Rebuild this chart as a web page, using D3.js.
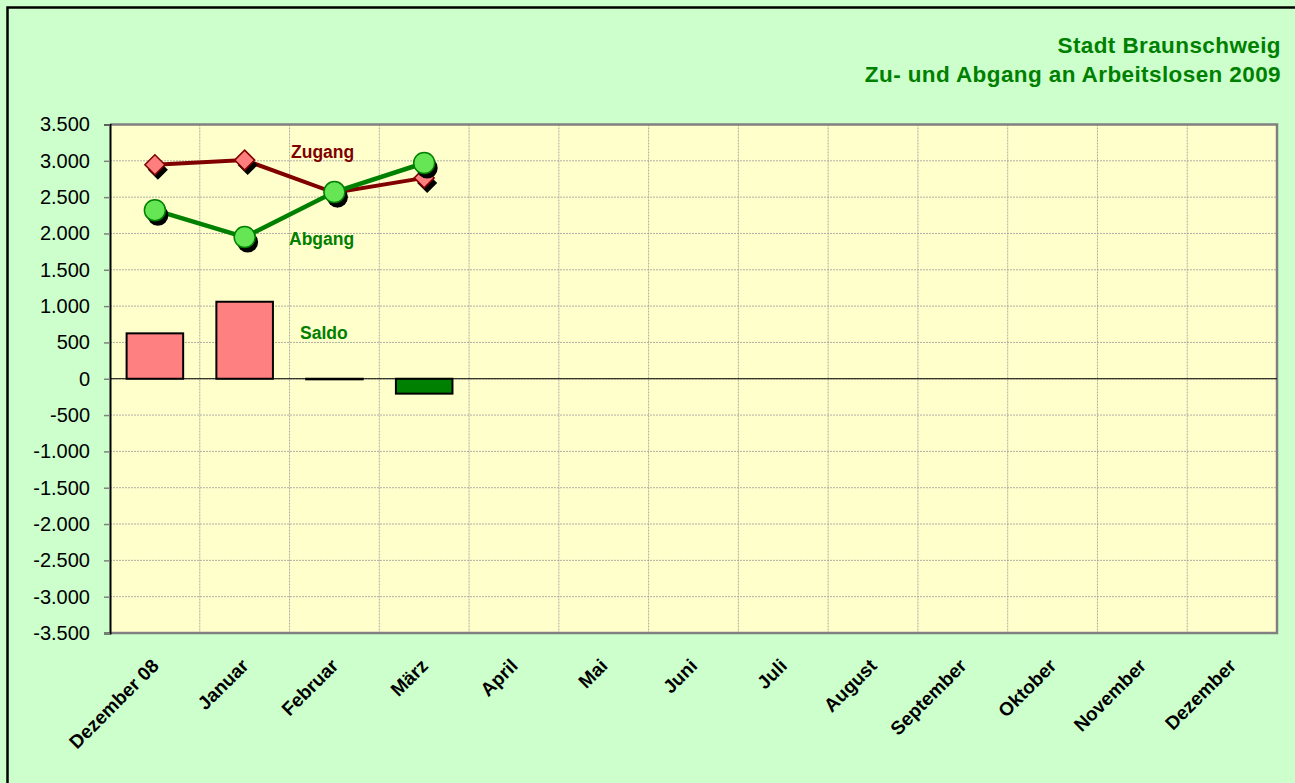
<!DOCTYPE html>
<html>
<head>
<meta charset="utf-8">
<script src="https://cdn.jsdelivr.net/npm/d3@7"></script>
<style>
  body { margin: 0; background: #CCFFCC; }
  text { font-family: "Liberation Sans", Arial, sans-serif; }
</style>
</head>
<body>
<div id="chart"></div>
<script>
const months = ["Dezember 08", "Januar", "Februar", "März", "April", "Mai", "Juni",
    "Juli", "August", "September", "Oktober", "November", "Dezember"];
const zugang = [2945, 3010, 2560, 2765];
const abgang = [2320, 1950, 2570, 2970];
const saldo = [625, 1060, -8, -205];
const yTicks = [3500, 3000, 2500, 2000, 1500, 1000, 500, 0, -500, -1000, -1500, -2000, -2500, -3000, -3500];
const titleLines = ["Stadt Braunschweig", "Zu- und Abgang an Arbeitslosen 2009"];

const W = 1295, H = 783;
const margin = { top: 124.5, right: 18, bottom: 150, left: 110 },
    width = W - margin.left - margin.right,
    height = 633 - margin.top;

const svg = d3.select("#chart")
    .append("svg")
    .attr("width", W)
    .attr("height", H);

// page background + frame (only left/top visible)
svg.append("rect").attr("x", 0).attr("y", 0).attr("width", W).attr("height", H).attr("fill", "#CCFFCC");
svg.append("rect").attr("x", 7.5).attr("y", 7.5).attr("width", W + 20).attr("height", H + 20)
    .attr("fill", "none").attr("stroke", "#000").attr("stroke-width", 2.5);

// title
svg.append("g").selectAll("text")
    .data(titleLines)
    .join("text")
    .attr("x", 1281)
    .attr("y", (d, i) => 53 + i * 29)
    .attr("text-anchor", "end")
    .attr("font-size", "22.5px")
    .attr("letter-spacing", "0.4px")
    .attr("font-weight", "bold")
    .attr("fill", "#008000")
    .text(d => d);

const g = svg.append("g")
    .attr("transform", `translate(${margin.left}, ${margin.top})`);

const x = d3.scaleBand()
    .domain(months)
    .range([0, width]);

const y = d3.scaleLinear()
    .domain([-3500, 3500])
    .range([height, 0]);

// plot area
g.append("rect")
    .attr("width", width)
    .attr("height", height)
    .attr("fill", "#FFFFCC");

// horizontal grid
g.append("g").selectAll("line")
    .data(yTicks.filter(d => d !== 3500 && d !== -3500))
    .join("line")
    .attr("x1", 0).attr("x2", width)
    .attr("y1", d => y(d)).attr("y2", d => y(d))
    .attr("stroke", "#999")
    .attr("stroke-width", 0.8)
    .attr("stroke-dasharray", "2,1");

// vertical grid at category boundaries
g.append("g").selectAll("line")
    .data(months.slice(1))
    .join("line")
    .attr("x1", d => x(d)).attr("x2", d => x(d))
    .attr("y1", 0).attr("y2", height)
    .attr("stroke", "#999")
    .attr("stroke-width", 0.8)
    .attr("stroke-dasharray", "2,1");

// plot border (grey top/right/bottom)
g.append("path")
    .attr("d", `M0,0H${width}V${height}H0`)
    .attr("fill", "none")
    .attr("stroke", "#808080")
    .attr("stroke-width", 2.5);

// Y axis
const yAxis = g.append("g")
    .attr("class", "axis")
    .call(d3.axisLeft(y)
        .tickValues(yTicks)
        .tickSize(6)
        .tickPadding(14)
        .tickFormat(d => (d < 0 ? "-" : "") + d3.format(",")(Math.abs(d)).replace(/,/g, ".")));
yAxis.select(".domain").attr("stroke", "#000").attr("stroke-width", 2);
yAxis.selectAll(".tick line").attr("stroke", "#808080").attr("stroke-width", 1.5);
yAxis.selectAll("text")
    .attr("font-size", "20px")
    .attr("fill", "#000")
    .attr("font-family", "Liberation Sans, Arial, sans-serif");

// X axis labels
const xAxis = g.append("g")
    .attr("class", "axis")
    .attr("transform", `translate(0, ${height})`)
    .call(d3.axisBottom(x).tickSize(0).tickPadding(0));
xAxis.select(".domain").remove();
xAxis.selectAll("text")
    .attr("font-size", "19px")
    .attr("font-weight", "bold")
    .attr("fill", "#000")
    .attr("font-family", "Liberation Sans, Arial, sans-serif")
    .attr("text-anchor", "end")
    .attr("dy", 0)
    .attr("transform", "translate(5, 34) rotate(-45)");

// Saldo bars
const barW = x.bandwidth() * 0.63;
g.append("g").selectAll("rect")
    .data(saldo)
    .join("rect")
    .attr("x", (d, i) => x(months[i]) + (x.bandwidth() - barW) / 2)
    .attr("y", d => y(Math.max(0, d)))
    .attr("width", barW)
    .attr("height", d => Math.abs(y(d) - y(0)))
    .attr("fill", d => d >= 0 ? "#FF8080" : "#008000")
    .attr("stroke", "#000")
    .attr("stroke-width", 2);

// zero line
g.append("line")
    .attr("x1", 0).attr("x2", width)
    .attr("y1", y(0)).attr("y2", y(0))
    .attr("stroke", "#000")
    .attr("stroke-width", 1.2);

const cx = i => x(months[i]) + x.bandwidth() / 2;
const line = d3.line().x((d, i) => cx(i)).y(d => y(d));

// Zugang line
g.append("path")
    .datum(zugang)
    .attr("d", line)
    .attr("fill", "none")
    .attr("stroke", "#800000")
    .attr("stroke-width", 4);

// Abgang line
g.append("path")
    .datum(abgang)
    .attr("d", line)
    .attr("fill", "none")
    .attr("stroke", "#008000")
    .attr("stroke-width", 4.5);

const diamond = "M0,-10L10,0L0,10L-10,0Z";
const zg = g.append("g");
zg.selectAll("path.shadow")
    .data(zugang)
    .join("path")
    .attr("class", "shadow")
    .attr("d", diamond)
    .attr("transform", (d, i) => `translate(${cx(i) + 3}, ${y(d) + 5})`)
    .attr("fill", "#000");
zg.selectAll("path.mark")
    .data(zugang)
    .join("path")
    .attr("class", "mark")
    .attr("d", diamond)
    .attr("transform", (d, i) => `translate(${cx(i)}, ${y(d)})`)
    .attr("fill", "#FF7F7F")
    .attr("stroke", "#800000")
    .attr("stroke-width", 1.5);

const ag = g.append("g");
ag.selectAll("circle.shadow")
    .data(abgang)
    .join("circle")
    .attr("class", "shadow")
    .attr("cx", (d, i) => cx(i) + 3)
    .attr("cy", d => y(d) + 5)
    .attr("r", 10.5)
    .attr("fill", "#000");
ag.selectAll("circle.mark")
    .data(abgang)
    .join("circle")
    .attr("class", "mark")
    .attr("cx", (d, i) => cx(i))
    .attr("cy", d => y(d))
    .attr("r", 10.5)
    .attr("fill", "#66E655")
    .attr("stroke", "#008000")
    .attr("stroke-width", 1.5);

// series labels
svg.append("text").attr("x", 291).attr("y", 158).attr("font-size", "17.5px").attr("font-weight", "bold")
    .attr("fill", "#800000").text("Zugang");
svg.append("text").attr("x", 289).attr("y", 245).attr("font-size", "17.5px").attr("font-weight", "bold")
    .attr("fill", "#008000").text("Abgang");
svg.append("text").attr("x", 300).attr("y", 339).attr("font-size", "17.5px").attr("font-weight", "bold")
    .attr("fill", "#008000").text("Saldo");
</script>
</body>
</html>
